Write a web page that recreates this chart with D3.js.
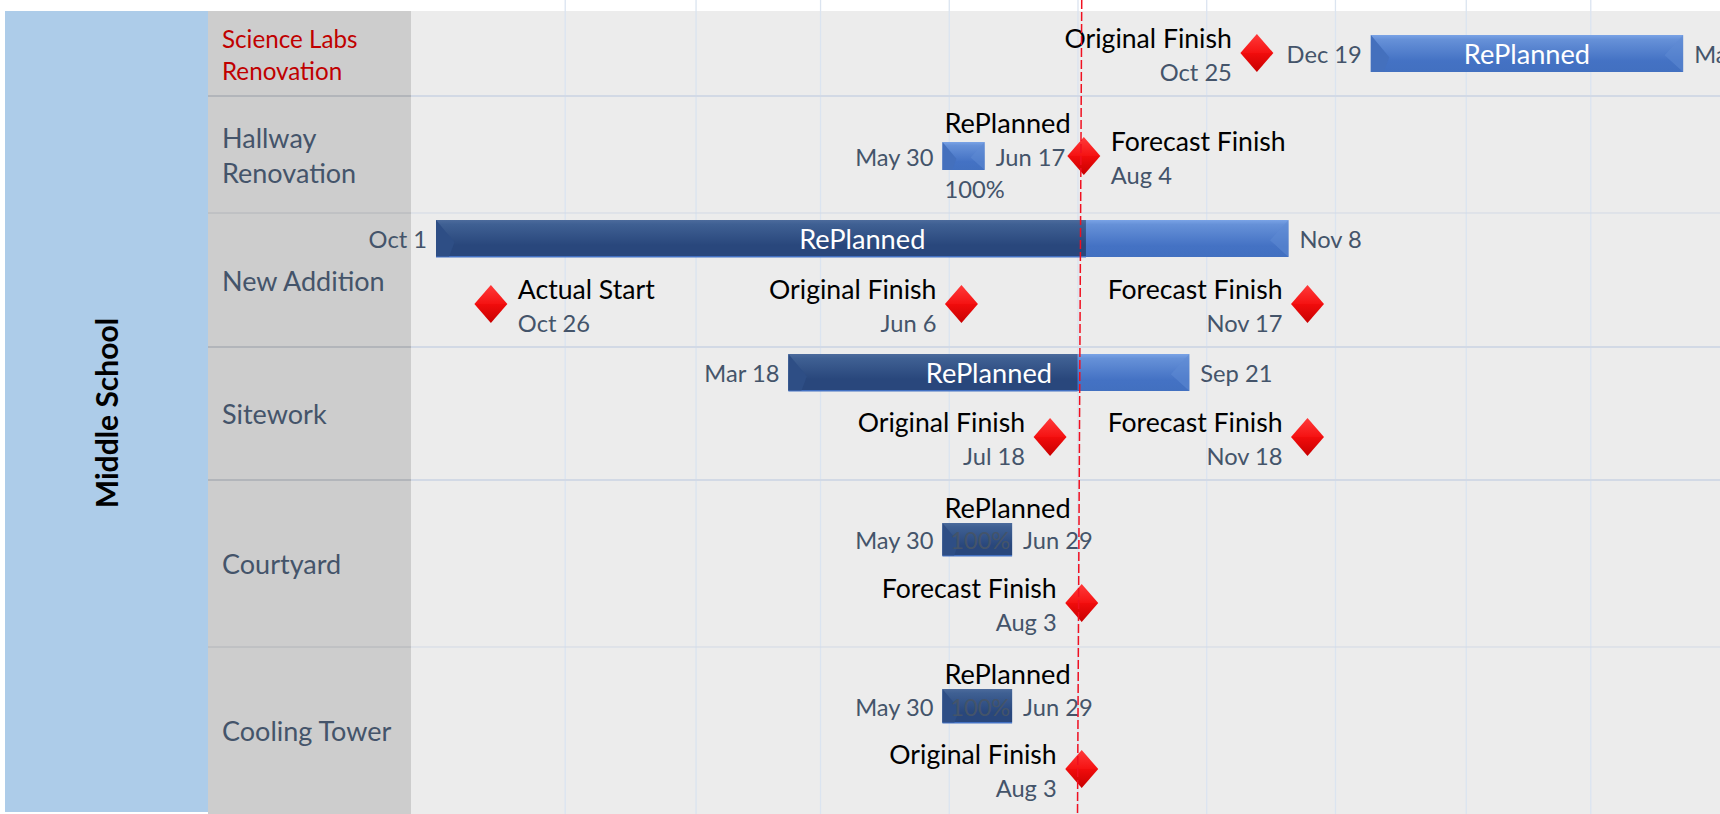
<!DOCTYPE html>
<html>
<head>
<meta charset="utf-8">
<title>Middle School schedule</title>
<script src="https://cdn.jsdelivr.net/npm/d3@7"></script>
<style>
  html, body { margin: 0; padding: 0; background: #fff; overflow: hidden; }
  svg { display: block; }
  text { font-family: Lato, "Noto Sans", sans-serif; }
</style>
</head>
<body>
<div id="chart"></div>
<script>
// --- Data (the picture shows no year, 2017-2019 fits the month spacing) ---
const groupName = "Middle School"
const rowNames = ["Science Labs|Renovation", "Hallway|Renovation", "New Addition", "Sitework", "Courtyard", "Cooling Tower"]
const gridDates = ["2017-12-01", "2018-02-01", "2018-04-01", "2018-06-01", "2018-08-01", "2018-10-01", "2018-12-01", "2019-02-01", "2019-04-01"]
const todayDates = ["2018-08-03", "2018-08-01"]

// drawn dates are where the marks sit in the picture, the labels can differ by a day or two
const barRows = [0, 1, 2, 3, 4, 5]
const barStarts = ["2018-12-18", "2018-05-29", "2017-10-01", "2018-03-17", "2018-05-29", "2018-05-29"]
const barEnds = ["2019-05-15", "2018-06-18", "2018-11-09", "2018-09-23", "2018-07-01", "2018-07-01"]
const barDone = [null, null, "2018-08-05", "2018-08-01", "2018-07-01", "2018-07-01"]
const barStartLabels = ["Dec 19", "May 30", "Oct 1", "Mar 18", "May 30", "May 30"]
const barEndLabels = ["May 16", "Jun 17", "Nov 8", "Sep 21", "Jun 29", "Jun 29"]
const barPercent = ["", "100%", "", "", "100%", "100%"]

const mileRows = [0, 1, 2, 2, 2, 3, 3, 4, 5]
const mileDates = ["2018-10-25", "2018-08-04", "2017-10-27", "2018-06-07", "2018-11-18", "2018-07-19", "2018-11-18", "2018-08-03", "2018-08-03"]
const mileTitles = ["Original Finish", "Forecast Finish", "Actual Start", "Original Finish", "Forecast Finish", "Original Finish", "Forecast Finish", "Forecast Finish", "Original Finish"]
const mileLabels = ["Oct 25", "Aug 4", "Oct 26", "Jun 6", "Nov 17", "Jul 18", "Nov 18", "Aug 3", "Aug 3"]
const mileSides = ["left", "right", "right", "left", "left", "left", "left", "left", "left"]

// --- Layout ---
const W = 1720, H = 814
const parse = d3.utcParse("%Y-%m-%d")
const x = d3.scaleUtc().domain([parse("2017-10-01"), parse("2019-06-01")]).range([436, 1719])

// row edges, then the lane centres of the bars and diamonds in each row
const rowEdges = [11, 96, 213, 347, 480, 647, 814]
const rowWeights = [2, 1, 2, 2, 1]
const barLane = d3.scaleOrdinal().domain(barRows).range([53.5, 156, 238.5, 372.5, 539.5, 706])
const barHeight = d3.scaleOrdinal().domain(barRows).range([37, 28, 37, 37, 33, 34])
const titleGap = d3.scaleOrdinal().domain(barRows).range([0, 10, 0, 0, 6, 6])
const mileLane = d3.scaleOrdinal().domain(d3.range(6)).range([53, 156, 304, 437, 603, 769])

const C = { text: "#44546a", blue: "#adcce9", label: "#cdcdcd", plot: "#ececec", grid: "#dbe4f0", rowOnPlot: "#d2d9e5", rowOnLabel: "#b2b5ba" }

const svg = d3.select("#chart").append("svg").attr("width", W).attr("height", H)
const defs = svg.append("defs")

function vGrad(id, stops) {
  const g = defs.append("linearGradient").attr("id", id).attr("x1", 0).attr("y1", 0).attr("x2", 0).attr("y2", 1)
  stops.forEach(([o, c]) => g.append("stop").attr("offset", o).attr("stop-color", c))
}
vGrad("barLight", [[0, "#7aa3e6"], [0.12, "#6691d8"], [0.7, "#4472c4"], [1, "#4270c0"]])
vGrad("barDark", [[0, "#4c6b9c"], [0.12, "#3f6093"], [0.7, "#29477c"], [1, "#29477c"]])
vGrad("gem", [[0, "#ff3a3a"], [0.5, "#f51212"], [0.51, "#f00c0c"], [1, "#c80000"]])

// --- Backgrounds ---
svg.append("rect").attr("x", 411).attr("y", rowEdges[0]).attr("width", W - 411).attr("height", H - rowEdges[0]).attr("fill", C.plot)
svg.append("rect").attr("x", 208).attr("y", rowEdges[0]).attr("width", 203).attr("height", H - rowEdges[0]).attr("fill", C.label)
svg.append("rect").attr("x", 5).attr("y", rowEdges[0]).attr("width", 203).attr("height", 801).attr("fill", C.blue)

// --- Month grid, via the axis ---
svg.append("g")
  .call(d3.axisTop(x).tickValues(gridDates.map(parse)).tickSize(-H).tickFormat(""))
  .attr("color", C.grid)
  .call(s => s.select(".domain").remove())
  .call(s => s.selectAll("line").attr("stroke-width", 1.3))

// --- Row separators ---
const seps = rowEdges.slice(1, -1)
svg.selectAll("line.sep-plot").data(seps).join("line").attr("class", "sep-plot")
  .attr("x1", 411).attr("x2", W).attr("y1", d => d).attr("y2", d => d)
  .attr("stroke", C.rowOnPlot).attr("stroke-width", (_, i) => rowWeights[i])
svg.selectAll("line.sep-label").data(seps).join("line").attr("class", "sep-label")
  .attr("x1", 208).attr("x2", 411).attr("y1", d => d).attr("y2", d => d)
  .attr("stroke", C.rowOnLabel).attr("stroke-width", (_, i) => rowWeights[i])

// --- Group + row names ---
svg.append("text")
  .attr("transform", "translate(118,413) rotate(-90)")
  .attr("text-anchor", "middle").attr("font-size", 30).attr("font-weight", 700).attr("fill", "#000")
  .text(groupName)

rowNames.forEach((name, i) => {
  const lines = name.split("|")
  const mid = (rowEdges[i] + rowEdges[i + 1]) / 2
  const first = i === 0
  const step = first ? 31.5 : 35
  const t = svg.append("text").attr("font-size", first ? 24.2 : 27).attr("fill", first ? "#c00000" : C.text)
  lines.forEach((l, k) => {
    t.append("tspan").attr("x", 222)
      .attr("y", mid + 10.5 + (k - (lines.length - 1) / 2) * step)
      .text(l)
  })
})

// --- Bars ---
const bars = d3.range(barRows.length).map(i => {
  const h = barHeight(barRows[i])
  return {
    i, h, top: barLane(barRows[i]) - h / 2,
    x0: x(parse(barStarts[i])), x1: x(parse(barEnds[i])),
    xd: barDone[i] ? x(parse(barDone[i])) : null
  }
})

const barG = svg.append("g")
const barMark = barG.selectAll("g").data(bars).join("g")

barMark.append("rect")
  .attr("x", d => d.x0).attr("y", d => d.top).attr("width", d => d.x1 - d.x0).attr("height", d => d.h)
  .attr("fill", "url(#barLight)")

// bevel at the right end of the light part
barMark.append("path")
  .attr("d", d => {
    const b = Math.min(d.h * 0.5, (d.x1 - d.x0) / 2)
    return `M${d.x1},${d.top}L${d.x1 - b},${d.top + d.h * 0.55}L${d.x1},${d.top + d.h}Z`
  })
  .attr("fill", "#5f8ad3").attr("opacity", 0.55)

barMark.filter(d => d.xd !== null).append("rect")
  .attr("x", d => d.x0).attr("y", d => d.top).attr("width", d => d.xd - d.x0).attr("height", d => d.h - 1)
  .attr("fill", "url(#barDark)")

// bevel at the left end
barMark.append("path")
  .attr("d", d => {
    const b = Math.min(d.h * 0.5, (d.x1 - d.x0) / 2)
    return `M${d.x0},${d.top}L${d.x0 + b},${d.top + d.h * 0.6}L${d.x0 + b * 0.7},${d.top + d.h}L${d.x0},${d.top + d.h}Z`
  })
  .attr("fill", d => d.xd !== null ? "#2e4e85" : "#4470bd")

// bottom edge of the dark bars
barMark.filter(d => d.xd !== null).append("line")
  .attr("x1", d => d.x0).attr("x2", d => d.xd)
  .attr("y1", d => d.top + d.h).attr("y2", d => d.top + d.h)
  .attr("stroke", "#4472c4").attr("stroke-width", 1)

const fsDate = 23.7, fsTitle = 26.6, fsBar = 27.2

barMark.append("text")
  .attr("x", d => d.x0 - 9).attr("y", d => d.top + d.h / 2 + 9.5)
  .attr("text-anchor", "end").attr("font-size", fsDate).attr("fill", C.text)
  .text(d => barStartLabels[d.i])

barMark.append("text")
  .attr("x", d => d.x1 + 11).attr("y", d => d.top + d.h / 2 + 9.5)
  .attr("font-size", fsDate).attr("fill", C.text)
  .text(d => barEndLabels[d.i])

// "RePlanned": in the bar when it fits, above it otherwise
barMark.append("text")
  .attr("x", d => titleGap(barRows[d.i]) ? d.x0 + 2 : (d.x0 + d.x1) / 2)
  .attr("y", d => titleGap(barRows[d.i]) ? d.top - titleGap(barRows[d.i]) + 1 : d.top + d.h / 2 + 10.5)
  .attr("text-anchor", d => titleGap(barRows[d.i]) ? "start" : "middle")
  .attr("font-size", fsBar)
  .attr("fill", d => titleGap(barRows[d.i]) ? "#000" : "#fff")
  .text("RePlanned")

barMark.filter(d => barPercent[d.i] !== "").append("text")
  .attr("x", d => d.xd !== null ? (d.x0 + d.x1) / 2 + 3 : d.x0 + 2)
  .attr("y", d => d.xd !== null ? d.top + d.h / 2 + 9.5 : d.top + d.h + 28)
  .attr("text-anchor", d => d.xd !== null ? "middle" : "start")
  .attr("font-size", fsDate).attr("fill", C.text)
  .text(d => barPercent[d.i])

// --- Diamonds ---
const miles = d3.range(mileRows.length).map(i => ({ i, cx: x(parse(mileDates[i])), cy: mileLane(mileRows[i]) }))
const gemHalfW = 16.5, gemHalfH = 19

const mileMark = svg.append("g").selectAll("g").data(miles).join("g")
  .attr("transform", d => `translate(${d.cx},${d.cy})`)

mileMark.append("path")
  .attr("d", () => {
    const p = d3.path()
    p.moveTo(0, -gemHalfH); p.lineTo(gemHalfW, 0); p.lineTo(0, gemHalfH); p.lineTo(-gemHalfW, 0); p.closePath()
    return p.toString()
  })
  .attr("fill", "url(#gem)")

mileMark.append("text")
  .attr("x", d => mileSides[d.i] === "left" ? -25 : 27)
  .attr("y", -5)
  .attr("text-anchor", d => mileSides[d.i] === "left" ? "end" : "start")
  .attr("font-size", fsTitle).attr("fill", "#000")
  .text(d => mileTitles[d.i])

mileMark.append("text")
  .attr("x", d => mileSides[d.i] === "left" ? -25 : 27)
  .attr("y", 28)
  .attr("text-anchor", d => mileSides[d.i] === "left" ? "end" : "start")
  .attr("font-size", fsDate).attr("fill", C.text)
  .text(d => mileLabels[d.i])

// --- Today line, slightly slanted in the source ---
svg.append("line")
  .attr("x1", x(parse(todayDates[0]))).attr("x2", x(parse(todayDates[1])))
  .attr("y1", 0).attr("y2", H)
  .attr("stroke", "#f01020").attr("stroke-width", 1.5).attr("stroke-dasharray", "9 3")
</script>
</body>
</html>
